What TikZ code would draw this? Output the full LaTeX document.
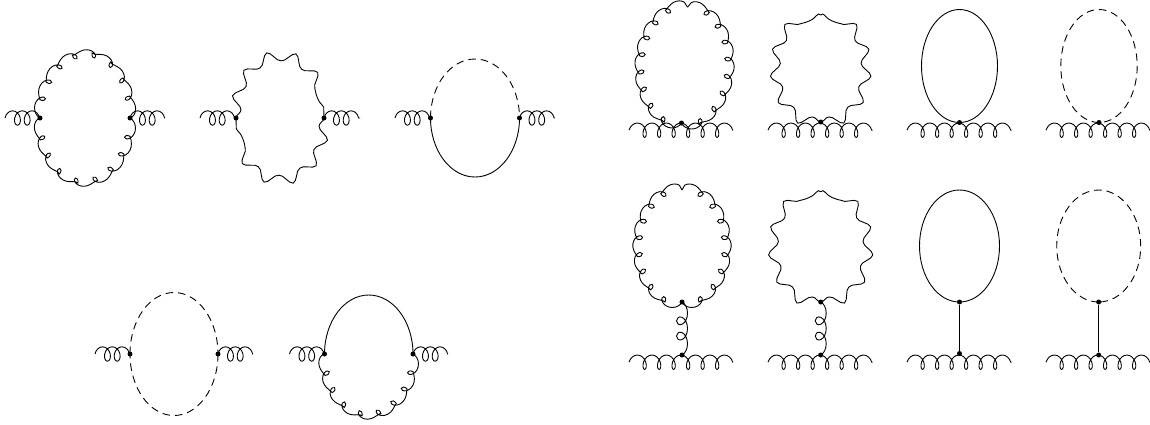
\documentclass[tikz,border=0pt]{standalone}
\usetikzlibrary{decorations.pathmorphing}
\begin{document}
\begin{tikzpicture}[
    x=1pt,
    y=-1pt,
    line width=0.9pt,
    vertex/.style={
        circle,
        fill=black,
        inner sep=0pt,
        minimum size=5pt
    },
    gluon/.style={
        decorate,
        decoration={coil, aspect=1, amplitude=5.5pt, segment length=#1}
    },
    stub/.style={
        decorate,
        decoration={coil, aspect=0.72, amplitude=7.2pt, segment length=9.7pt}
    },
    extgluon/.style={
        decorate,
        decoration={coil, aspect=0.66, amplitude=7.2pt, segment length=14.5pt}
    },
    linkgluon/.style={
        decorate,
        decoration={coil, aspect=1.33, amplitude=5.5pt, segment length=15.3pt}
    },
    photon/.style={
        decorate,
        decoration={snake, amplitude=5pt, segment length=#1}
    },
    ghost/.style={dash pattern=on 7.5pt off 5pt}
]
\useasboundingbox (0,0) rectangle (1150,424);

% Two point functions
\node [vertex] (a1) at (40,118) {};
\node [vertex] (a2) at (130,118) {};
\coordinate (a0) at (5,118);
\coordinate (a3) at (165,118);
\draw [stub] (a0) -- (a1.center);
\draw [stub] (a2.center) -- (a3);
\draw [gluon=18.3pt] (a1.center) arc [start angle=180, end angle=360, x radius=45, y radius=61];
\draw [gluon=18.3pt] (a2.center) arc [start angle=0, end angle=180, x radius=45, y radius=61];

\node [vertex] (b1) at (236,118) {};
\node [vertex] (b2) at (324,118) {};
\coordinate (b0) at (200,118);
\coordinate (b3) at (360,118);
\draw [stub] (b0) -- (b1.center);
\draw [stub] (b2.center) -- (b3);
\draw [photon=26pt, decoration={mirror}] (b1.center) arc [start angle=180, end angle=360, x radius=44, y radius=55.5];
\draw [photon=26pt, decoration={mirror}] (b2.center) arc [start angle=0, end angle=180, x radius=44, y radius=55.5];

\node [vertex] (c1) at (430.5,118) {};
\node [vertex] (c2) at (519.5,118) {};
\coordinate (c0) at (395,118);
\coordinate (c3) at (555,118);
\draw [stub] (c0) -- (c1.center);
\draw [stub] (c2.center) -- (c3);
\draw [ghost] (c1.center) arc [start angle=180, end angle=360, x radius=44.5, y radius=59];
\draw (c2.center) arc [start angle=0, end angle=180, x radius=44.5, y radius=59];

\node [vertex] (d1) at (130,354) {};
\node [vertex] (d2) at (218,354) {};
\coordinate (d0) at (95,354);
\coordinate (d3) at (253,354);
\draw [stub] (d0) -- (d1.center);
\draw [stub] (d2.center) -- (d3);
\draw [ghost] (d1.center) arc [start angle=180, end angle=360, x radius=44, y radius=61.5];
\draw [ghost] (d2.center) arc [start angle=0, end angle=180, x radius=44, y radius=61.5];

\node [vertex] (e1) at (324.5,354) {};
\node [vertex] (e2) at (413,354) {};
\coordinate (e0) at (289.5,354);
\coordinate (e3) at (448,354);
\draw [stub] (e0) -- (e1.center);
\draw [stub] (e2.center) -- (e3);
\draw (e1.center) arc [start angle=180, end angle=360, x radius=44.25, y radius=59];
\draw [gluon=17.6pt] (e2.center) arc [start angle=0, end angle=180, x radius=44.25, y radius=58];

% Seagull tadpoles
\node [vertex] (f1) at (681.5,123) {};
\coordinate (f0) at (629,130.2);
\coordinate (f2) at (733,130.2);
\draw [extgluon] (f0) -- (f2);
\draw [gluon=17.4pt, rotate=-3] (f1.center) arc [start angle=90, end angle=270, x radius=43.5, y radius=58];
\draw [gluon=17.4pt, rotate=-3, decoration={mirror}] (f1.center) arc [start angle=90, end angle=-90, x radius=43.5, y radius=58];

\node [vertex] (g1) at (820.7,122) {};
\coordinate (g0) at (768,130.2);
\coordinate (g2) at (872.5,130.2);
\draw [extgluon] (g0) -- (g2);
\draw [photon=25.6pt, decoration={mirror}] (g1.center) arc [start angle=90, end angle=270, x radius=38.8, y radius=53.5];
\draw [photon=25.6pt] (g1.center) arc [start angle=90, end angle=-90, x radius=38.8, y radius=53.5];

\node [vertex] (h1) at (959.5,122.5) {};
\coordinate (h0) at (907,130.2);
\coordinate (h2) at (1011.5,130.2);
\draw [extgluon] (h0) -- (h2);
\draw (h1.center) arc [start angle=90, end angle=450, x radius=38, y radius=56.5];

\node [vertex] (i1) at (1099,122.5) {};
\coordinate (i0) at (1046,130.2);
\coordinate (i2) at (1150,130.2);
\draw [extgluon] (i0) -- (i2);
\draw [ghost] (i1.center) arc [start angle=90, end angle=450, x radius=38.2, y radius=56.5];

% Tadpoles on a stem
\node [vertex] (j1) at (682,302) {};
\node [vertex] (j2) at (682,355) {};
\coordinate (j0) at (629,362.2);
\coordinate (j4) at (733,362.2);
\draw [extgluon] (j0) -- (j4);
\draw [linkgluon] (j1.center) -- (j2.center);
\draw [gluon=17pt] (j1.center) arc [start angle=90, end angle=270, x radius=43, y radius=56];
\draw [gluon=17pt, decoration={mirror}] (j1.center) arc [start angle=90, end angle=-90, x radius=43, y radius=56];

\node [vertex] (k1) at (820.7,302) {};
\node [vertex] (k2) at (820.7,355) {};
\coordinate (k0) at (768,362.2);
\coordinate (k4) at (872.5,362.2);
\draw [extgluon] (k0) -- (k4);
\draw [linkgluon] (k1.center) -- (k2.center);
\draw [photon=26.5pt, decoration={mirror}] (k1.center) arc [start angle=90, end angle=270, x radius=40.5, y radius=55.15];
\draw [photon=26.5pt] (k1.center) arc [start angle=90, end angle=-90, x radius=40.5, y radius=55.15];

\node [vertex] (l1) at (959.5,302) {};
\node [vertex] (l2) at (959.5,353.5) {};
\coordinate (l0) at (907,362.2);
\coordinate (l4) at (1011.5,362.2);
\draw [extgluon] (l0) -- (l4);
\draw (l1) -- (l2);
\draw (l1.center) arc [start angle=90, end angle=450, x radius=40, y radius=56];

\node [vertex] (m1) at (1098.7,302) {};
\node [vertex] (m2) at (1098.7,355) {};
\coordinate (m0) at (1046,362.2);
\coordinate (m4) at (1150,362.2);
\draw [extgluon] (m0) -- (m4);
\draw (m1) -- (m2);
\draw [ghost] (m1.center) arc [start angle=90, end angle=450, x radius=42, y radius=56];

\end{tikzpicture}
\end{document}
